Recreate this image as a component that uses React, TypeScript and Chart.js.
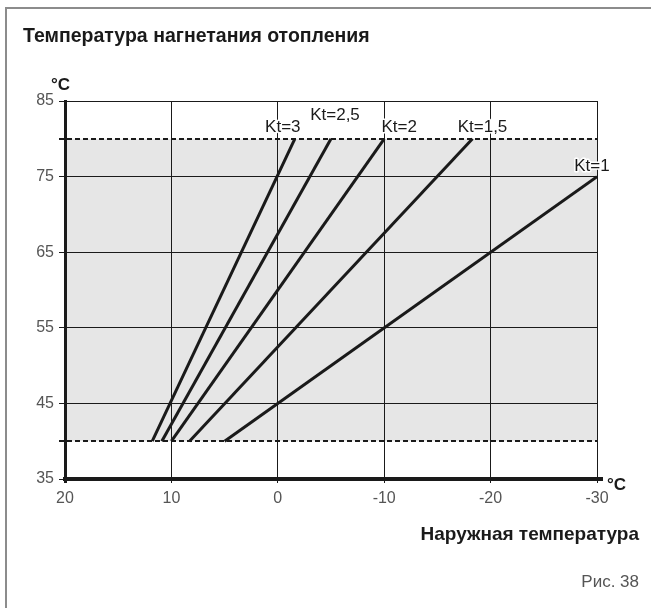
import React, { useEffect, useRef } from "react";
import { Chart, registerables } from "chart.js";

Chart.register(...registerables);

// ---- data ----
const ktLabels = ["Kt=1", "Kt=1,5", "Kt=2", "Kt=2,5", "Kt=3"];
const ktStartX = [5, 8.3, 10, 10.9, 11.8];
const ktStartY = [40, 40, 40, 40, 40];
const ktEndX = [-30, -18.3, -10, -5, -1.6];
const ktEndY = [75, 80, 80, 80, 80];

const xMin = -30;
const xMax = 20;
const xStep = 10;
const yMin = 35;
const yMax = 85;
const yStep = 10;
const bandLow = 40;
const bandHigh = 80;
const unitLabel = "°C";

// ---- label styling offsets (pixels, relative to the line's end point) ----
const labelDx = [-5, 10, 15, 4, -12];
const labelDy = [-6, -7, -7, -19, -7];

const FONT = "'Liberation Sans', Arial, sans-serif";
const INK = "#1a1a1a";

const decorPlugin = {
  id: "decor",
  beforeDraw(chart: any) {
    const { ctx, chartArea: a, scales } = chart;
    const y = scales.y;
    const top = y.getPixelForValue(bandHigh);
    const bot = y.getPixelForValue(bandLow);
    ctx.save();
    ctx.fillStyle = "#e6e6e6";
    ctx.fillRect(a.left, top, a.right - a.left, bot - top);
    ctx.restore();
  },
  beforeDatasetsDraw(chart: any) {
    const { ctx, chartArea: a, scales } = chart;
    const y = scales.y;
    ctx.save();
    ctx.strokeStyle = INK;
    ctx.lineWidth = 2;
    ctx.setLineDash([5, 3]);
    [bandLow, bandHigh].forEach((v) => {
      const py = Math.round(y.getPixelForValue(v));
      ctx.beginPath();
      ctx.moveTo(a.left - 6, py);
      ctx.lineTo(a.right, py);
      ctx.stroke();
    });
    ctx.restore();
  },
  afterDraw(chart: any) {
    const { ctx, chartArea: a } = chart;
    ctx.save();
    // x axis line extension to the right
    ctx.strokeStyle = INK;
    ctx.lineWidth = 4;
    ctx.beginPath();
    ctx.moveTo(a.right - 1, a.bottom);
    ctx.lineTo(a.right + 6, a.bottom);
    ctx.stroke();

    // unit labels
    ctx.fillStyle = INK;
    ctx.font = `bold 17px ${FONT}`;
    ctx.textAlign = "left";
    ctx.textBaseline = "alphabetic";
    ctx.fillText(unitLabel, a.left - 14, a.top - 11);
    ctx.fillText(unitLabel, a.right + 10, a.bottom + 11);

    // Kt labels
    ctx.font = `17px ${FONT}`;
    ctx.textAlign = "center";
    ktLabels.forEach((lbl, i) => {
      const meta = chart.getDatasetMeta(i);
      const pt = meta.data[meta.data.length - 1];
      const tx = pt.x + labelDx[i];
      const ty = pt.y + labelDy[i];
      ctx.lineWidth = 3;
      ctx.strokeStyle = "#ffffff";
      ctx.lineJoin = "round";
      ctx.strokeText(lbl, tx, ty);
      ctx.fillStyle = INK;
      ctx.fillText(lbl, tx, ty);
    });
    ctx.restore();
  },
};

export default function App() {
  const canvasRef = useRef<HTMLCanvasElement | null>(null);

  useEffect(() => {
    const canvas = canvasRef.current;
    if (!canvas) return;
    const datasets = ktLabels.map((lbl, i) => ({
      label: lbl,
      data: [
        { x: ktStartX[i], y: ktStartY[i] },
        { x: ktEndX[i], y: ktEndY[i] },
      ],
      borderColor: INK,
      borderWidth: 3,
      pointRadius: 0,
      fill: false,
      tension: 0,
    }));
    const chart = new Chart(canvas, {
      type: "line",
      data: { datasets },
      options: {
        animation: false,
        responsive: false,
        maintainAspectRatio: false,
        devicePixelRatio: 1,
        layout: { padding: { left: 0, top: 101, right: 54, bottom: 99 } },
        plugins: {
          legend: { display: false },
          tooltip: { enabled: false },
          title: { display: false },
        },
        scales: {
          x: {
            type: "linear",
            min: xMin,
            max: xMax,
            reverse: true,
            ticks: {
              stepSize: xStep,
              color: "#555555",
              font: { family: FONT, size: 16 },
              padding: 6,
              maxRotation: 0,
              autoSkip: false,
            },
            grid: {
              color: INK,
              lineWidth: (c: any) => (c.tick && c.tick.value === xMax ? 3 : 1),
              tickLength: 4,
              drawTicks: true,
            },
            border: { display: true, color: INK, width: 4 },
            afterFit: (s: any) => {
              s.height = 30;
            },
          },
          y: {
            type: "linear",
            min: yMin,
            max: yMax,
            ticks: {
              stepSize: yStep,
              color: "#555555",
              font: { family: FONT, size: 16 },
              padding: 5,
            },
            grid: {
              color: INK,
              lineWidth: 1,
              tickLength: 6,
              drawTicks: true,
            },
            border: { display: true, color: INK, width: 3 },
            afterFit: (s: any) => {
              s.width = 65;
            },
          },
        },
      },
      plugins: [decorPlugin],
    });
    return () => chart.destroy();
  }, []);

  return (
    <div
      style={{
        position: "fixed",
        left: 0,
        top: 0,
        width: 651,
        height: 608,
        overflow: "hidden",
        background: "#ffffff",
        fontFamily: FONT,
      }}
    >
      <div
        style={{
          position: "absolute",
          left: 5,
          top: 7,
          width: 900,
          height: 900,
          border: "2px solid #8c8c8c",
        }}
      />
      <canvas
        ref={canvasRef}
        width={651}
        height={608}
        style={{ position: "absolute", left: 0, top: 0, width: 651, height: 608, display: "block" }}
      />
      <div
        style={{
          position: "absolute",
          left: 23,
          top: 25,
          fontSize: 19.5,
          lineHeight: "20px",
          fontWeight: "bold",
          color: INK,
          whiteSpace: "nowrap",
        }}
      >
        Температура нагнетания отопления
      </div>
      <div
        style={{
          position: "absolute",
          right: 12,
          top: 524,
          fontSize: 19,
          lineHeight: "19px",
          fontWeight: "bold",
          color: INK,
          whiteSpace: "nowrap",
        }}
      >
        Наружная температура
      </div>
      <div
        style={{
          position: "absolute",
          right: 12,
          top: 573,
          fontSize: 17,
          lineHeight: "17px",
          color: "#555555",
          whiteSpace: "nowrap",
        }}
      >
        Рис. 38
      </div>
    </div>
  );
}
